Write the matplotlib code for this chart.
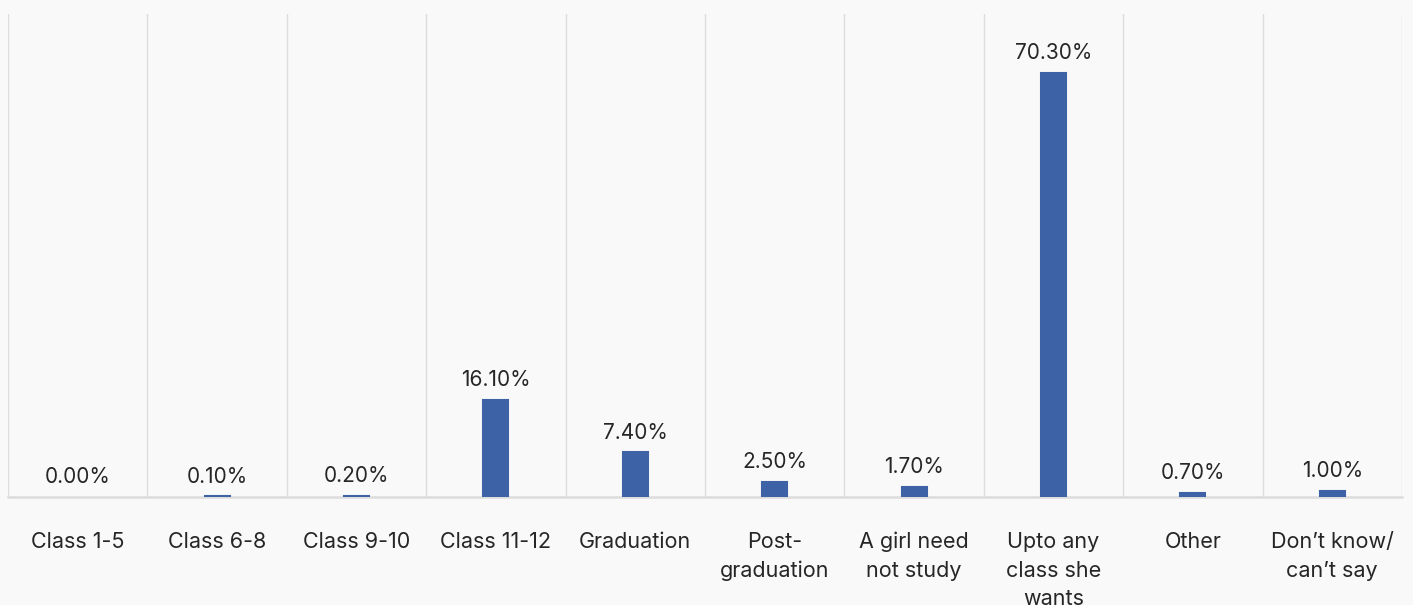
import matplotlib as mpl

mpl.use("Agg")
import matplotlib.pyplot as plt

categories = [
    "Class 1-5",
    "Class 6-8",
    "Class 9-10",
    "Class 11-12",
    "Graduation",
    "Post-\ngraduation",
    "A girl need\nnot study",
    "Upto any\nclass she\nwants",
    "Other",
    "Don\u2019t know/\ncan\u2019t say",
]
shares = [0.0, 0.1, 0.2, 16.1, 7.4, 2.5, 1.7, 70.3, 0.7, 1.0]

BG = "#f9f9f9"
BAR = "#3d62a6"
GRID = "#dcdcdc"
TEXT = "#262626"

plt.rcParams["font.family"] = ["Inter", "DejaVu Sans"]

fig = plt.figure(figsize=(14.13, 6.05), dpi=100, facecolor=BG)
ax = fig.add_axes([8 / 1413, 108 / 605, 1394 / 1413, 483 / 605])
ax.set_facecolor(BG)

x = list(range(len(categories)))
lw = [0 if v == 0 else 1.5 for v in shares]
bars = ax.bar(x, shares, width=0.18, color=BAR, edgecolor=BAR, linewidth=lw, zorder=3)
ax.bar_label(bars, labels=[f"{v:.2f}%" for v in shares], padding=7,
             fontsize=15, color=TEXT)

ax.set_xlim(-0.5, len(categories) - 0.5)
ax.set_ylim(0, 80)
for i in range(len(categories) + 1):
    ax.axvline(i - 0.5, color=GRID, linewidth=1, zorder=1)

for side in ("top", "right", "left"):
    ax.spines[side].set_visible(False)
ax.spines["bottom"].set_color(GRID)
ax.spines["bottom"].set_linewidth(1.8)

ax.set_yticks([])
ax.set_xticks(x)
ax.set_xticklabels(categories, fontsize=15.5, color=TEXT, linespacing=1.55)
ax.tick_params(axis="x", length=0, pad=25)

fig.savefig("out.png", dpi=100, facecolor=BG)
